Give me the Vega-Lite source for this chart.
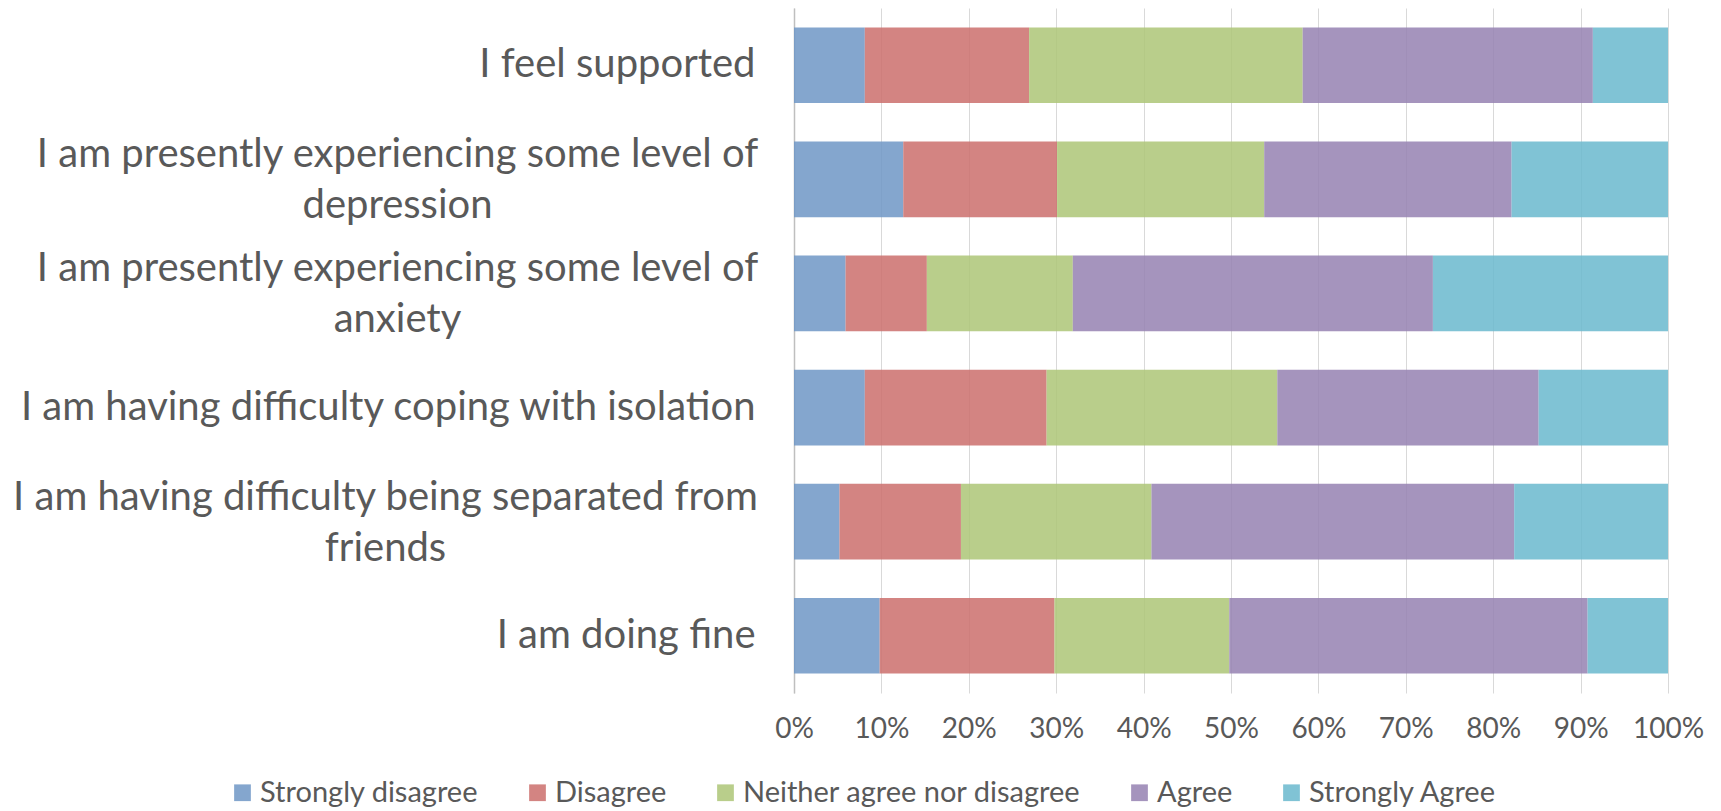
{
  "$schema": "https://vega.github.io/schema/vega-lite/v6.json",
  "width": 874,
  "height": 685,
  "autosize": {"type": "none"},
  "padding": {"left": 794, "top": 8, "right": 53, "bottom": 118},
  "background": "white",
  "data": {
    "values": [
      {"item": "I feel supported", "response": "Strongly disagree", "rank": 1, "value": 8.1},
      {"item": "I feel supported", "response": "Disagree", "rank": 2, "value": 18.8},
      {"item": "I feel supported", "response": "Neither agree nor disagree", "rank": 3, "value": 31.3},
      {"item": "I feel supported", "response": "Agree", "rank": 4, "value": 33.2},
      {"item": "I feel supported", "response": "Strongly Agree", "rank": 5, "value": 8.6},
      {"item": "I am presently experiencing some level of depression", "response": "Strongly disagree", "rank": 1, "value": 12.5},
      {"item": "I am presently experiencing some level of depression", "response": "Disagree", "rank": 2, "value": 17.6},
      {"item": "I am presently experiencing some level of depression", "response": "Neither agree nor disagree", "rank": 3, "value": 23.7},
      {"item": "I am presently experiencing some level of depression", "response": "Agree", "rank": 4, "value": 28.3},
      {"item": "I am presently experiencing some level of depression", "response": "Strongly Agree", "rank": 5, "value": 17.9},
      {"item": "I am presently experiencing some level of anxiety", "response": "Strongly disagree", "rank": 1, "value": 5.9},
      {"item": "I am presently experiencing some level of anxiety", "response": "Disagree", "rank": 2, "value": 9.3},
      {"item": "I am presently experiencing some level of anxiety", "response": "Neither agree nor disagree", "rank": 3, "value": 16.7},
      {"item": "I am presently experiencing some level of anxiety", "response": "Agree", "rank": 4, "value": 41.2},
      {"item": "I am presently experiencing some level of anxiety", "response": "Strongly Agree", "rank": 5, "value": 26.9},
      {"item": "I am having difficulty coping with isolation", "response": "Strongly disagree", "rank": 1, "value": 8.1},
      {"item": "I am having difficulty coping with isolation", "response": "Disagree", "rank": 2, "value": 20.8},
      {"item": "I am having difficulty coping with isolation", "response": "Neither agree nor disagree", "rank": 3, "value": 26.4},
      {"item": "I am having difficulty coping with isolation", "response": "Agree", "rank": 4, "value": 29.9},
      {"item": "I am having difficulty coping with isolation", "response": "Strongly Agree", "rank": 5, "value": 14.8},
      {"item": "I am having difficulty being separated from friends", "response": "Strongly disagree", "rank": 1, "value": 5.2},
      {"item": "I am having difficulty being separated from friends", "response": "Disagree", "rank": 2, "value": 13.9},
      {"item": "I am having difficulty being separated from friends", "response": "Neither agree nor disagree", "rank": 3, "value": 21.8},
      {"item": "I am having difficulty being separated from friends", "response": "Agree", "rank": 4, "value": 41.5},
      {"item": "I am having difficulty being separated from friends", "response": "Strongly Agree", "rank": 5, "value": 17.6},
      {"item": "I am doing fine", "response": "Strongly disagree", "rank": 1, "value": 9.8},
      {"item": "I am doing fine", "response": "Disagree", "rank": 2, "value": 20.0},
      {"item": "I am doing fine", "response": "Neither agree nor disagree", "rank": 3, "value": 20.0},
      {"item": "I am doing fine", "response": "Agree", "rank": 4, "value": 41.0},
      {"item": "I am doing fine", "response": "Strongly Agree", "rank": 5, "value": 9.2}
    ]
  },
  "mark": {"type": "bar", "opacity": 0.85},
  "encoding": {
    "y": {
      "field": "item",
      "type": "nominal",
      "sort": null,
      "scale": {"paddingInner": 0.337, "paddingOuter": 0.17},
      "axis": {
        "title": null,
        "ticks": false,
        "domainColor": "#BFBFBF",
        "domainWidth": 1.5,
        "labelFont": "Lato",
        "labelFontSize": 40,
        "labelColor": "#595959",
        "labelLimit": 800,
        "labelLineHeight": 51,
        "labelExpr": "length(datum.label) > 45 ? [substring(datum.label, 0, lastindexof(datum.label, ' ')), substring(datum.label, lastindexof(datum.label, ' ') + 1)] : datum.label",
        "labelAlign": {"condition": {"test": "length(datum.label) > 45", "value": "center"}, "value": "right"},
        "labelOffset": {"condition": {"test": "length(datum.label) > 45", "value": -24}, "value": 0},
        "labelPadding": {"condition": [{"test": "indexof(datum.label, 'friends') >= 0", "value": 409}, {"test": "length(datum.label) > 45", "value": 397}], "value": 39}
      }
    },
    "x": {
      "field": "value",
      "type": "quantitative",
      "stack": "normalize",
      "scale": {"domain": [0, 1], "nice": false},
      "axis": {
        "title": null,
        "format": ".0%",
        "values": [0, 0.1, 0.2, 0.3, 0.4, 0.5, 0.6, 0.7, 0.8, 0.9, 1],
        "domain": false,
        "ticks": false,
        "grid": true,
        "gridColor": "#D9D9D9",
        "gridWidth": 1,
        "labelFont": "Lato",
        "labelFontSize": 28,
        "labelColor": "#595959",
        "labelPadding": 22,
        "labelFlush": false
      }
    },
    "color": {
      "field": "response",
      "type": "nominal",
      "scale": {
        "domain": ["Strongly disagree", "Disagree", "Neither agree nor disagree", "Agree", "Strongly Agree"],
        "range": ["#6E96C6", "#CB6E6C", "#ADC677", "#9581B1", "#6AB8CE"]
      },
      "legend": {
        "title": null,
        "orient": "none",
        "legendX": -566,
        "legendY": 770,
        "direction": "horizontal",
        "columns": 5,
        "symbolType": "square",
        "symbolSize": 280,
        "symbolOpacity": 0.85,
        "symbolStrokeWidth": 0,
        "labelFont": "Lato",
        "labelFontSize": 29,
        "labelColor": "#595959",
        "labelOffset": 3,
        "labelLimit": 600,
        "columnPadding": 44
      }
    },
    "order": {"field": "rank", "type": "quantitative"}
  },
  "config": {"view": {"stroke": null}}
}
